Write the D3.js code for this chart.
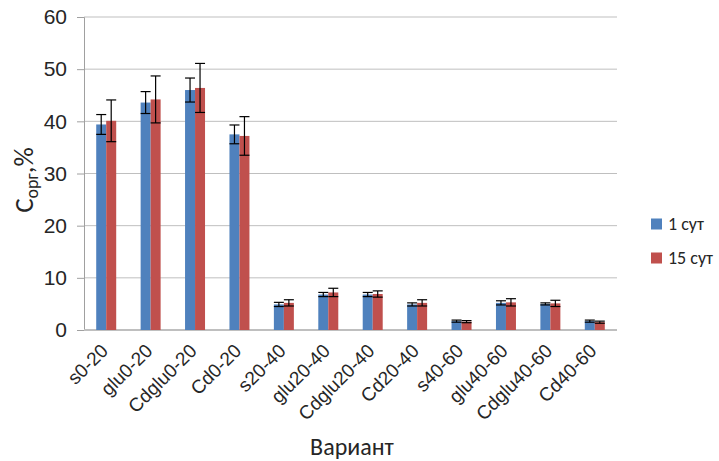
<!DOCTYPE html>
<html><head><meta charset="utf-8">
<script src="https://cdn.jsdelivr.net/npm/d3@7"></script>
<style>body{margin:0;background:#fff}svg{font-family:Calibri,Carlito,"Liberation Sans",Arial,sans-serif}</style>
</head><body>
<svg id="c" width="719" height="461"></svg>
<script>
const categories = ["s0-20","glu0-20","Cdglu0-20","Cd0-20","s20-40","glu20-40","Cdglu20-40","Cd20-40","s40-60","glu40-60","Cdglu40-60","Cd40-60"];
const seriesNames = ["1 сут","15 сут"];
const day1 = [39.4,43.6,46.0,37.5,4.9,6.8,6.8,4.9,1.7,5.2,5.0,1.7];
const day1Err = [1.9,2.1,2.3,1.8,0.4,0.4,0.4,0.3,0.2,0.4,0.2,0.2];
const day15 = [40.1,44.2,46.4,37.2,5.2,7.2,6.9,5.2,1.6,5.3,5.1,1.5];
const day15Err = [4.0,4.5,4.7,3.7,0.6,0.8,0.6,0.6,0.2,0.7,0.6,0.2];
const yTicks = [0,10,20,30,40,50,60];
const colors = ["#4F81BD","#C0504D"];

const svg = d3.select("#c");
const m = {l:84, r:617, t:17, b:330};
const x = d3.scaleBand().domain(categories).range([m.l, m.r]).paddingInner(0.55).paddingOuter(0.275);
const xs = d3.scaleBand().domain([0,1]).range([0, x.bandwidth()]);
const y = d3.scaleLinear().domain([0,60]).range([m.b, m.t]);

// grid
svg.append("g").selectAll("line").data(yTicks.filter(d=>d>0)).join("line")
  .attr("x1", m.l).attr("x2", m.r).attr("y1", d=>y(d)).attr("y2", d=>y(d))
  .attr("stroke", "#bfbfbf").attr("stroke-width", 1);

// y axis
const ya = svg.append("g").attr("transform", `translate(${m.l},0)`)
  .call(d3.axisLeft(y).tickValues(yTicks).tickSize(7).tickPadding(10));
ya.select(".domain").attr("stroke","#a0a0a0");
ya.selectAll(".tick line").attr("stroke","#a0a0a0");
ya.selectAll("text").attr("font-size", 21).attr("fill","#262626");

// x axis
const xa = svg.append("g").attr("transform", `translate(0,${m.b})`)
  .call(d3.axisBottom(x).tickSize(0).tickPadding(0));
xa.select(".domain").attr("stroke","#bfbfbf").attr("stroke-width",2)
  .attr("d", `M${m.l},0H${m.r}`);
xa.selectAll("text").attr("font-size", 19).attr("fill","#262626")
  .attr("text-anchor","end").attr("dy",null).attr("y",0)
  .attr("transform","translate(3,22) rotate(-45)");

// bars
const series = [ {v:day1,e:day1Err}, {v:day15,e:day15Err} ];
series.forEach((s,i)=>{
  const g = svg.append("g");
  g.selectAll("rect").data(categories).join("rect")
    .attr("x", (c)=>x(c)+xs(i)).attr("width", xs.bandwidth())
    .attr("y", (c,j)=>y(s.v[j])).attr("height", (c,j)=>y(0)-y(s.v[j]))
    .attr("fill", colors[i]);
  const eg = svg.append("g").attr("stroke","#000").attr("stroke-width",1.2);
  categories.forEach((c,j)=>{
    const cx = x(c)+xs(i)+xs.bandwidth()/2;
    const y1 = y(s.v[j]+s.e[j]), y2 = y(s.v[j]-s.e[j]);
    eg.append("line").attr("x1",cx).attr("x2",cx).attr("y1",y1).attr("y2",y2);
    eg.append("line").attr("x1",cx-5).attr("x2",cx+5).attr("y1",y1).attr("y2",y1);
    eg.append("line").attr("x1",cx-5).attr("x2",cx+5).attr("y1",y2).attr("y2",y2);
  });
});

// legend
const lg = svg.append("g");
seriesNames.forEach((n,i)=>{
  const yy = 224 + i*34;
  lg.append("rect").attr("x",651).attr("y",yy-5.5).attr("width",11).attr("height",11).attr("fill",colors[i]);
  lg.append("text").attr("x",668).attr("y",yy+6).attr("font-size",18).attr("fill","#262626").text(n);
});

// axis titles
svg.append("text").attr("x",352).attr("y",455).attr("text-anchor","middle")
  .attr("font-size",24).attr("fill","#262626").text("Вариант");
const yt = svg.append("text").attr("transform","translate(33,180) rotate(-90)")
  .attr("text-anchor","middle").attr("font-size",27).attr("fill","#262626");
yt.append("tspan").text("C");
yt.append("tspan").attr("font-size",18).attr("dy",5).text("орг");
yt.append("tspan").attr("dy",-5).text(",%");
</script>
</body></html>
